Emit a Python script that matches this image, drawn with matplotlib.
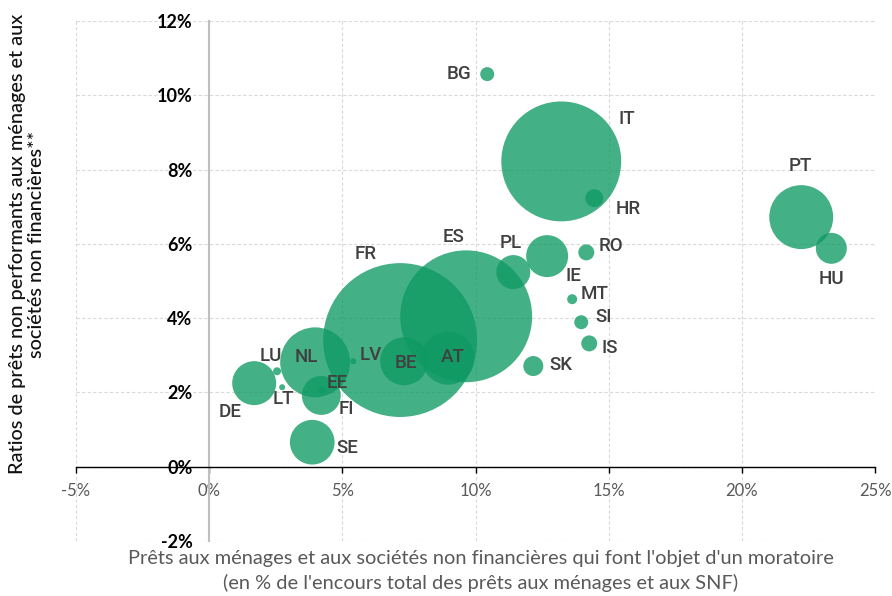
import matplotlib
matplotlib.use("Agg")
import matplotlib.pyplot as plt
from matplotlib.ticker import FuncFormatter, MultipleLocator

# Données (en %)
pays = ["BG", "IT", "HR", "PT", "HU", "RO", "IE", "PL", "MT", "SI", "IS", "SK",
        "ES", "FR", "AT", "BE", "NL", "LV", "LU", "LT", "EE", "FI", "DE", "SE"]
moratoire = [10.44, 13.22, 14.46, 22.23, 23.36, 14.16, 12.69, 11.42, 13.63, 13.97, 14.27, 12.17,
             9.65, 7.17, 8.97, 7.32, 3.98, 5.41, 2.55, 2.74, 4.24, 4.21, 1.69, 3.87]
npl = [10.57, 8.22, 7.23, 6.72, 5.88, 5.77, 5.67, 5.24, 4.51, 3.89, 3.32, 2.71,
       4.05, 3.41, 2.92, 2.84, 2.81, 2.84, 2.57, 2.14, 2.06, 1.92, 2.25, 0.66]
# taille des bulles (encours relatif)
encours = [49, 3600, 81, 1024, 240, 64, 441, 289, 25, 49, 64, 100,
           4356, 5929, 700, 576, 1225, 9, 16, 9, 12, 380, 484, 500]

# décalage des étiquettes (pixels)
decal = {"BG": (-28, 0), "IT": (66, 42), "HR": (34, -11), "PT": (-1, 51), "HU": (0, -31),
         "RO": (25, 6), "IE": (26, -20), "PL": (-3, 29), "MT": (22, 5), "SI": (22, 5),
         "IS": (21, -5), "SK": (28, 1), "ES": (-13, 79), "FR": (-35, 86), "AT": (5, 1),
         "BE": (2, -2), "NL": (-9, 5), "LV": (17, 6), "LU": (-6, 15), "LT": (1, -12),
         "EE": (15, 7), "FI": (25, -14), "DE": (-24, -29), "SE": (35, -6)}

fig = plt.figure(figsize=(8.92, 5.96), dpi=100)
ax = fig.add_axes([76 / 892, 1 - 541 / 596, 799 / 892, 520 / 596])

ax.scatter(moratoire, npl, s=[e * 2.07 for e in encours], color="#0f9a63",
           alpha=0.78, linewidths=0, zorder=3)

for p, x, y in zip(pays, moratoire, npl):
    ax.annotate(p, (x, y), xytext=decal[p], textcoords="offset pixels",
                ha="center", va="center", fontsize=13.5, color="#404040",
                family="Roboto", fontweight="medium", zorder=4)

ax.set_xlim(-5, 25)
ax.set_ylim(-2, 12)
ax.xaxis.set_major_locator(MultipleLocator(5))
ax.yaxis.set_major_locator(MultipleLocator(2))
ax.xaxis.set_major_formatter(FuncFormatter(lambda v, _: f"{v:.0f}%"))
ax.yaxis.set_major_formatter(FuncFormatter(lambda v, _: f"{v:.0f}%"))

ax.grid(True, color="#d9d9d9", linestyle=(0, (3, 2)), linewidth=0.8, zorder=0)
ax.set_axisbelow(True)

for s in ["top", "right"]:
    ax.spines[s].set_visible(False)
ax.spines["left"].set_position(("data", 0))
ax.spines["left"].set_color("#bfbfbf")
ax.spines["left"].set_linewidth(1.5)
ax.spines["bottom"].set_position(("data", 0))
ax.spines["bottom"].set_color("black")
ax.spines["bottom"].set_linewidth(1)

ax.tick_params(axis="y", length=0, pad=12)
ax.tick_params(axis="x", direction="out", length=4, width=1, color="black", pad=8)
for lab in ax.get_yticklabels():
    lab.set_family("Lato")
    lab.set_fontweight("bold")
    lab.set_fontsize(13)
    lab.set_color("black")
for lab in ax.get_xticklabels():
    lab.set_family("Lato")
    lab.set_fontsize(12)
    lab.set_color("#595959")

fig.text(27 / 892, 1 - 244 / 596,
         "Ratios de prêts non performants aux ménages et aux\nsociétés non financières**",
         rotation=90, ha="center", va="center", multialignment="center",
         family="Lato", fontsize=14.3, fontweight="medium", color="#111111",
         linespacing=1.2)
fig.text(481 / 892, 1 - 571 / 596,
         "Prêts aux ménages et aux sociétés non financières qui font l'objet d'un moratoire\n"
         "(en % de l'encours total des prêts aux ménages et aux SNF)",
         ha="center", va="center", multialignment="center",
         family="Lato", fontsize=14.4, color="#595959", linespacing=1.4)

fig.savefig("out.png", dpi=100)
